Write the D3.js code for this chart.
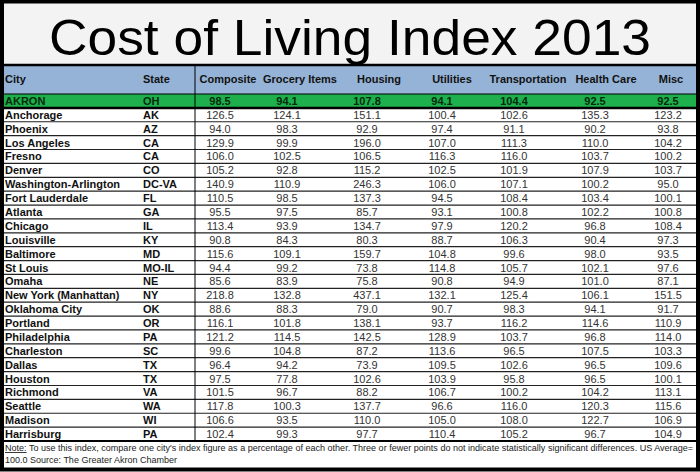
<!DOCTYPE html>
<html>
<head>
<meta charset="utf-8">
<script src="https://cdn.jsdelivr.net/npm/d3@7"></script>
<style>
  body { margin: 0; background: #fff; }
  svg { display: block; font-family: "Liberation Sans", Arial, sans-serif; }
</style>
</head>
<body>
<svg width="700" height="472"></svg>
<script>
// table data
const cities = ["AKRON", "Anchorage", "Phoenix", "Los Angeles", "Fresno", "Denver", "Washington-Arlington",
  "Fort Lauderdale", "Atlanta", "Chicago", "Louisville", "Baltimore", "St Louis", "Omaha",
  "New York (Manhattan)", "Oklahoma City", "Portland", "Philadelphia", "Charleston", "Dallas",
  "Houston", "Richmond", "Seattle", "Madison", "Harrisburg"];
const states = ["OH", "AK", "AZ", "CA", "CA", "CO", "DC-VA", "FL", "GA", "IL", "KY", "MD", "MO-IL", "NE",
  "NY", "OK", "OR", "PA", "SC", "TX", "TX", "VA", "WA", "WI", "PA"];
const columns = ["Composite", "Grocery Items", "Housing", "Utilities", "Transportation", "Health Care", "Misc"];

const composite = [98.5, 126.5, 94.0, 129.9, 106.0, 105.2, 140.9, 110.5, 95.5, 113.4, 90.8, 115.6, 94.4, 85.6,
  218.8, 88.6, 116.1, 121.2, 99.6, 96.4, 97.5, 101.5, 117.8, 106.6, 102.4];
const grocery = [94.1, 124.1, 98.3, 99.9, 102.5, 92.8, 110.9, 98.5, 97.5, 93.9, 84.3, 109.1, 99.2, 83.9,
  132.8, 88.3, 101.8, 114.5, 104.8, 94.2, 77.8, 96.7, 100.3, 93.5, 99.3];
const housing = [107.8, 151.1, 92.9, 196.0, 106.5, 115.2, 246.3, 137.3, 85.7, 134.7, 80.3, 159.7, 73.8, 75.8,
  437.1, 79.0, 138.1, 142.5, 87.2, 73.9, 102.6, 88.2, 137.7, 110.0, 97.7];
const utilities = [94.1, 100.4, 97.4, 107.0, 116.3, 102.5, 106.0, 94.5, 93.1, 97.9, 88.7, 104.8, 114.8, 90.8,
  132.1, 90.7, 93.7, 128.9, 113.6, 109.5, 103.9, 106.7, 96.6, 105.0, 110.4];
const transportation = [104.4, 102.6, 91.1, 111.3, 116.0, 101.9, 107.1, 108.4, 100.8, 120.2, 106.3, 99.6, 105.7, 94.9,
  125.4, 98.3, 116.2, 103.7, 96.5, 102.6, 95.8, 100.2, 116.0, 108.0, 105.2];
const healthCare = [92.5, 135.3, 90.2, 110.0, 103.7, 107.9, 100.2, 103.4, 102.2, 96.8, 90.4, 98.0, 102.1, 101.0,
  106.1, 94.1, 114.6, 96.8, 107.5, 96.5, 96.5, 104.2, 120.3, 122.7, 96.7];
const misc = [92.5, 123.2, 93.8, 104.2, 100.2, 103.7, 95.0, 100.1, 100.8, 108.4, 97.3, 93.5, 97.6, 87.1,
  151.5, 91.7, 110.9, 114.0, 103.3, 109.6, 100.1, 113.1, 115.6, 106.9, 104.9];

const series = [composite, grocery, housing, utilities, transportation, healthCare, misc];

const W = 700, H = 472;
const svg = d3.select("svg");

// layout
const titleBottom = 65, headTop = 66, headBottom = 94, tableBottom = 441;
const valueX = [220, 287, 367, 442, 514, 595, 668];
const headX = [228, 300, 379, 452, 528, 606, 671];

const y = d3.scaleBand().domain(cities).range([headBottom, tableBottom]);
const xVal = d3.scaleOrdinal().domain(columns).range(valueX);
const xHead = d3.scaleOrdinal().domain(columns).range(headX);

// backgrounds
svg.append("rect").attr("x", 0).attr("y", 0).attr("width", W).attr("height", titleBottom).attr("fill", "#f3f3f3");
svg.append("rect").attr("x", 0).attr("y", headTop).attr("width", W).attr("height", headBottom - headTop).attr("fill", "#95b3d7");
svg.append("rect").attr("x", 0).attr("y", y("AKRON")).attr("width", W).attr("height", y.bandwidth()).attr("fill", "#1db04c");

// title
svg.append("text")
  .attr("x", W / 2).attr("y", 55)
  .attr("text-anchor", "middle")
  .attr("font-size", 50)
  .attr("textLength", 602).attr("lengthAdjust", "spacingAndGlyphs")
  .attr("fill", "#000")
  .text("Cost of Living Index 2013");

// header
const head = svg.append("g").attr("font-weight", "bold").attr("font-size", 11).attr("fill", "#111");
head.append("text").attr("x", 5).attr("y", 83).text("City");
head.append("text").attr("x", 143).attr("y", 83).text("State");
head.selectAll(".colhead").data(columns).enter().append("text")
  .attr("class", "colhead")
  .attr("x", d => xHead(d)).attr("y", 83)
  .attr("text-anchor", "middle")
  .text(d => d);

// row lines
svg.append("g").selectAll("line").data(cities.slice(1)).enter().append("line")
  .attr("x1", 0).attr("x2", W)
  .attr("y1", d => y(d) + y.bandwidth()).attr("y2", d => y(d) + y.bandwidth())
  .attr("stroke", "#222").attr("stroke-width", 1.2);

// rows
const rows = svg.append("g").selectAll("g").data(cities).enter().append("g")
  .attr("transform", d => `translate(0, ${y(d) + y.bandwidth() / 2 + 4})`);

rows.append("text").attr("x", 5)
  .attr("font-weight", "bold").attr("font-size", 11)
  .attr("fill", (d, i) => i === 0 ? "#062a0c" : "#111")
  .text(d => d);
rows.append("text").attr("x", 143)
  .attr("font-weight", "bold").attr("font-size", 11)
  .attr("fill", (d, i) => i === 0 ? "#062a0c" : "#111")
  .text((d, i) => states[i]);

rows.each(function (d, i) {
  d3.select(this).selectAll(".val").data(columns).enter().append("text")
    .attr("class", "val")
    .attr("x", c => xVal(c))
    .attr("text-anchor", "middle")
    .attr("font-size", 11)
    .attr("font-weight", i === 0 ? "bold" : "normal")
    .attr("fill", i === 0 ? "#062a0c" : "#333")
    .text((c, j) => series[j][i].toFixed(1));
});

// structural lines
const lines = [
  [0, titleBottom, W, titleBottom, 2.5],
  [0, headBottom, W, headBottom, 1],
  [0, y("AKRON") + y.bandwidth(), W, y("AKRON") + y.bandwidth(), 2.5],
  [0, tableBottom, W, tableBottom, 2],
  [195, headTop, 195, tableBottom, 1]
];
svg.append("g").selectAll("line").data(lines).enter().append("line")
  .attr("x1", d => d[0]).attr("y1", d => d[1]).attr("x2", d => d[2]).attr("y2", d => d[3])
  .attr("stroke", "#000").attr("stroke-width", d => d[4]);

// note
const note = svg.append("g").attr("font-size", 9).attr("fill", "#222");
const n1 = note.append("text").attr("x", 5).attr("y", 451)
  .attr("textLength", 688).attr("lengthAdjust", "spacingAndGlyphs");
n1.append("tspan").attr("text-decoration", "underline").text("Note:");
n1.append("tspan").text(" To use this index, compare one city's index figure as a percentage of each other. Three or fewer points do not indicate statistically significant differences. US Average=");
note.append("text").attr("x", 5).attr("y", 463).text("100.0 Source: The Greater Akron Chamber");

// outer border
svg.append("rect").attr("x", 2).attr("y", 1.5).attr("width", W - 4).attr("height", H - 4)
  .attr("fill", "none").attr("stroke", "#000").attr("stroke-width", 4);
</script>
</body>
</html>
